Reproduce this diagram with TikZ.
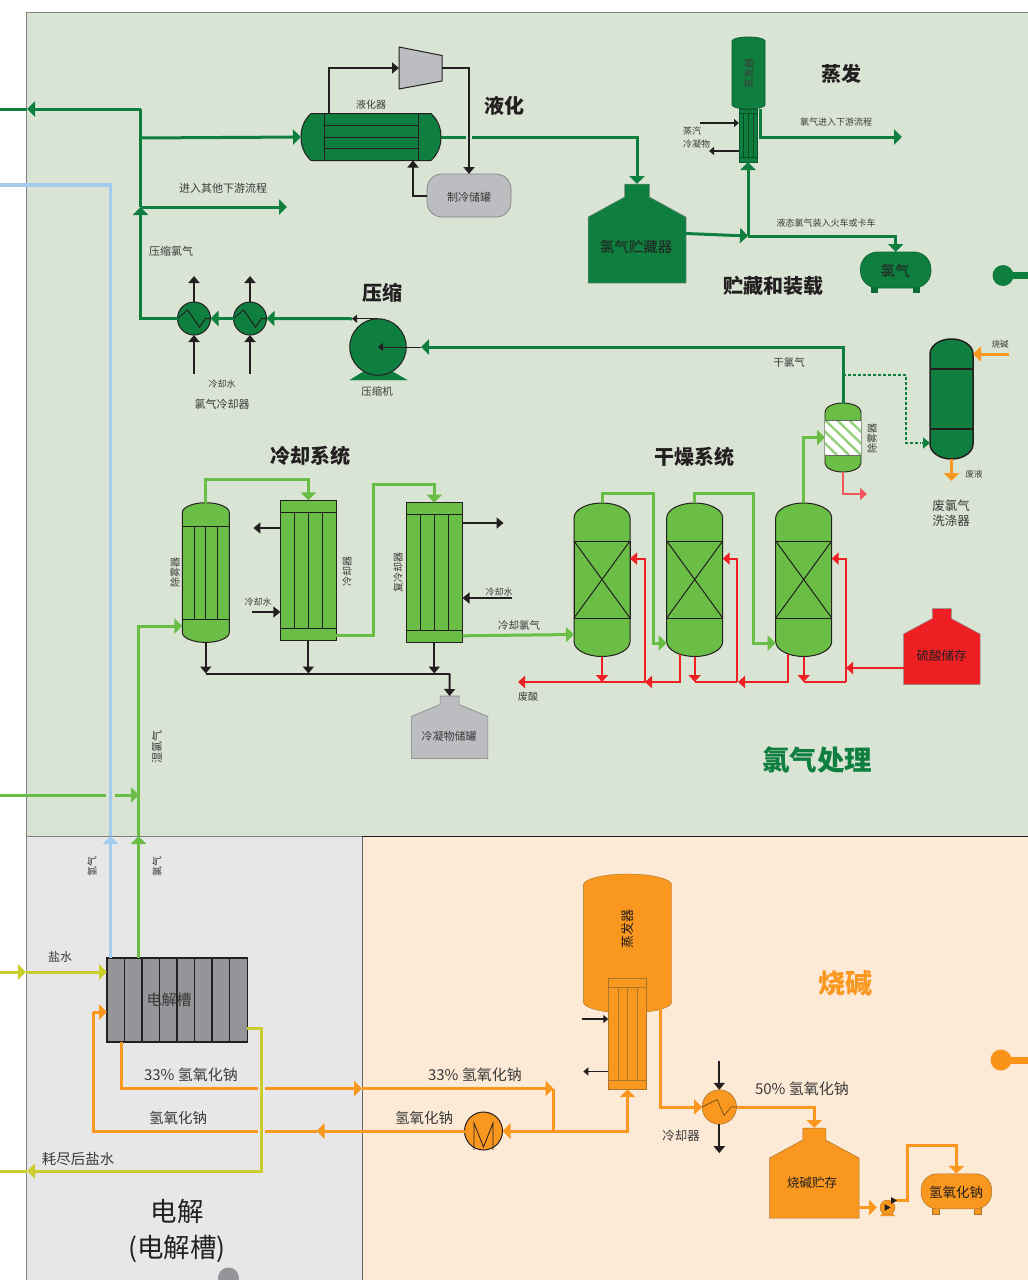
\documentclass[tikz,border=0pt]{standalone}
\usepackage{xcolor}
\usepackage{fontspec}
\setmainfont{Noto Sans CJK SC}
\usepackage{tikz}
\usetikzlibrary{arrows.meta, shapes.geometric, positioning, calc}
\definecolor{gaspanel}{HTML}{DAE4D5}
\definecolor{cellpanel}{HTML}{E7E7E8}
\definecolor{lyepanel}{HTML}{FDEAD6}
\definecolor{gasdark}{HTML}{0F7F3F}
\definecolor{gaslight}{HTML}{6ABD45}
\definecolor{skyline}{HTML}{A3CCEE}
\definecolor{brine}{HTML}{CACD2E}
\definecolor{lye}{HTML}{F9971E}
\definecolor{lyeedge}{HTML}{A8762F}
\definecolor{acid}{HTML}{EE2024}
\definecolor{tankgray}{HTML}{BCBDC0}
\definecolor{cellgray}{HTML}{939598}
\definecolor{ink}{HTML}{231F20}
\definecolor{labelgray}{HTML}{3A3A3A}
\tikzstyle{flow} = [line width=3pt, -{Triangle[length=8pt,width=15pt]}]
\tikzstyle{flowline} = [line width=3pt]
\tikzstyle{acidflow} = [line width=2pt, acid, -{Triangle[length=7pt,width=12pt]}]
\tikzstyle{acidline} = [line width=2pt, acid]
\tikzstyle{ctl} = [line width=2pt, ink, -{Triangle[length=7pt,width=11pt]}]
\tikzstyle{ctlfine} = [line width=1pt, ink, -{Triangle[length=5pt,width=8pt]}]
\tikzstyle{fine} = [line width=1pt, ink]
\tikzstyle{unit} = [rectangle, inner sep=0pt, outer sep=0pt]
\tikzstyle{wheel} = [circle, draw=ink, line width=1pt, inner sep=0pt, outer sep=0pt]
\tikzstyle{title} = [font=\fontsize{20}{22}\selectfont\bfseries, text=ink]
\tikzset{lab/.style={font=\fontsize{#1}{#1}\selectfont, text=labelgray, inner sep=0pt}}
% rounded vessel, flat sided
\newcommand{\vessel}[7][]{%
  \draw[#1] (#3,#4+#7) arc[start angle=180,end angle=360,x radius=#5/2,y radius=#7]
    -- ++(0,#6-2*#7) arc[start angle=0,end angle=180,x radius=#5/2,y radius=#7] -- cycle;
  \node (#2) [unit, minimum width=#5, minimum height=#6] at (#3+#5/2,#4+#6/2) {};}
% storage tank with neck
\newcommand{\necktank}[9][]{%
  \draw[#1] (#3,#4+#6) -- (#3,#4+#9) -- (#3+#5/2-#7/2,#4+#8) -- (#3+#5/2-#7/2,#4)
    -- (#3+#5/2+#7/2,#4) -- (#3+#5/2+#7/2,#4+#8) -- (#3+#5,#4+#9) -- (#3+#5,#4+#6) -- cycle;
  \node (#2) [unit, minimum width=#5, minimum height=#6] at (#3+#5/2,#4+#6/2) {};}
\begin{document}
\begin{tikzpicture}[x=1pt, y=-1pt]
    \useasboundingbox (0,0) rectangle (1028,1280);

    % Panels
    \fill [gaspanel] (26,12) rectangle (1028,836);
    \fill [cellpanel] (26,836) rectangle (362,1280);
    \fill [lyepanel] (362,836) rectangle (1028,1280);
    \draw [black!50, line width=0.8pt] (1028,12) -- (26,12) -- (26,1280);
    \draw [black!50, line width=0.8pt] (26,836) -- (362,836);
    \draw [black!60, line width=0.8pt] (362,836) -- (362,1280);
    \draw [ink, line width=0.9pt] (362,836) -- (1028,836);

    % Liquefaction
    \draw [fill=gasdark, draw=ink, line width=1pt] (311,113.5) .. controls (304,120) and (301,128) .. (301,137)
        .. controls (301,146) and (304,154) .. (311,160.5) -- (431,160.5)
        .. controls (438,154) and (441,146) .. (441,137) .. controls (441,128) and (438,120) .. (431,113.5) -- cycle;
    \node (liq) [unit, minimum width=140, minimum height=47] at (371,137) {};
    \foreach \x in {324,418} \draw [fine] (\x,113.5) -- (\x,160.5);
    \foreach \y in {125,137,148.5} \draw [fine] (324,\y) -- (418,\y);
    \draw [fill=tankgray, draw=ink, line width=1pt] (399,47) -- (442,55.5) -- (442,81) -- (399,89) -- cycle;
    \node (turb) [unit, minimum width=43, minimum height=42] at (420.5,68) {};
    \node (refr) [unit, rounded corners=15pt, draw=black!50, fill=tankgray, line width=0.7pt, minimum width=84, minimum height=43] at (469,195.5) {};
    \draw [ctl] (liq.north west) ++(28,0) |- (turb.west);
    \draw [ctl] (turb.east) -| (refr.north);
    \draw [ctl] (refr.west) -| ($(liq.south west)+(112,0)$);

    % Evaporation
    \vessel[fill=gasdark, draw=gasdark!70!black, line width=0.7pt]{evap}{732}{37}{33}{72}{4}
    \node (tube) [unit, draw=gasdark!70!black, fill=gasdark, line width=0.7pt, minimum width=18, minimum height=53] at (748,135.5) {};
    \foreach \y in {113,157.5} \draw [gasdark!60!black, line width=0.6pt] (tube.west |- 0,\y) -- (tube.east |- 0,\y);
    \foreach \x in {743,748,753} \draw [gasdark!60!black, line width=0.6pt] (\x,113) -- (\x,157.5);

    % Storage
    \necktank[fill=gasdark, draw=black!45, line width=0.5pt]{store}{588}{184}{98}{99}{25}{13}{33}
    \foreach \x in {871,913} \fill [gasdark!85!black] (\x,286) rectangle ++(7,7);
    \node (clfin) [unit, rounded corners=17pt, draw=gasdark!80!black, fill=gasdark, line width=0.7pt, minimum width=70.5, minimum height=36] at (895.7,270) {};

    % Compression
    \node (cool1) [wheel, fill=gasdark, minimum size=33] at (194,318.5) {};
    \node (cool2) [wheel, fill=gasdark, minimum size=33] at (250,318.5) {};
    \foreach \c in {cool1,cool2}
        \draw [fine] (\c.west) -- ++(10,-8.5) -- ++(12,17) -- ++(6,-8.5) -- (\c.east);
    \draw [fill=gasdark, draw=gasdark] (350,380) -- (363,372) -- (393,372) -- (407,380) -- cycle;
    \node (comp) [wheel, fill=gasdark, minimum size=56.5] at (378,347) {};

    % Scrubbing
    \vessel[fill=gasdark, draw=ink, line width=1.5pt]{scrub}{930}{339}{43}{120}{15}
    \foreach \y in {369,429} \draw [ink, line width=1.2pt] (930,\y) -- (973,\y);
    \vessel[fill=gaslight, draw=ink, line width=0.9pt]{dem}{825}{403}{36}{69}{9}
    \fill [white] (825,420) rectangle (861,455);
    \begin{scope}
        \clip (825,420) rectangle (861,455);
        \foreach \d in {-48,-36,...,36} \draw [gaslight!70, line width=2.4pt] (825+\d,420) -- ++(36,35);
    \end{scope}
    \foreach \y in {420,455} \draw [black!60, line width=1pt] (825,\y) -- (861,\y);

    % Drying towers
    \vessel[fill=gaslight, draw=ink, line width=1pt]{dry1}{574}{503}{56}{153.5}{15}
    \vessel[fill=gaslight, draw=ink, line width=1pt]{dry2}{666.7}{503}{56}{153.5}{15}
    \vessel[fill=gaslight, draw=ink, line width=1pt]{dry3}{775.7}{503}{56}{153.5}{15}
    \foreach \x in {574,666.7,775.7} {
        \draw [fine] (\x,541) rectangle ++(56,77);
        \draw [fine] (\x,541) -- ++(56,77);
        \draw [fine] (\x,618) -- ++(56,-77);
    }
    \necktank[fill=acid, draw=black!45, line width=0.5pt]{sulf}{903.5}{608.5}{76.5}{76}{19}{10}{25.5}

    % Cooling
    \vessel[fill=gaslight, draw=ink, line width=1pt]{mist}{182.3}{502.7}{47}{139.7}{10}
    \foreach \y in {526,619} \draw [fine] (182.3,\y) -- (229.3,\y);
    \foreach \x in {194.2,205.8,217.5} \draw [fine] (\x,526) -- (\x,619);
    \node (cond1) [unit, draw=ink, fill=gaslight, line width=1pt, minimum width=56, minimum height=139.7] at (308.4,570.2) {};
    \node (cond2) [unit, draw=ink, fill=gaslight, line width=1pt, minimum width=56.5, minimum height=139.6] at (434.3,572.5) {};
    \foreach \y in {512,628.7} \draw [fine] (cond1.west |- 0,\y) -- (cond1.east |- 0,\y);
    \foreach \x in {294.5,308.4,322.5} \draw [fine] (\x,512) -- (\x,628.7);
    \foreach \y in {514.5,630.5} \draw [fine] (cond2.west |- 0,\y) -- (cond2.east |- 0,\y);
    \foreach \x in {420,434.3,448.3} \draw [fine] (\x,514.5) -- (\x,630.5);
    \necktank[fill=tankgray, draw=black!50, line width=0.6pt]{cond}{411.3}{696}{76.5}{62.6}{19}{8.5}{20.5}

    % Cell
    \node (cell) [unit, draw=ink, fill=cellgray, line width=1.5pt, minimum width=140.5, minimum height=84] at (177.25,1000) {};
    \foreach \x in {124.5,142,159.5,177,194.5,212,229.5} \draw [ink, line width=1.5pt] (\x,958) -- (\x,1042);

    % Caustic
    \vessel[fill=lye, draw=lyeedge, line width=0.4pt]{evlye}{583.3}{874}{88.4}{139}{11}
    \node (evtube) [unit, draw=lyeedge, fill=lye, line width=0.6pt, minimum width=38.4, minimum height=111] at (627.5,1033.7) {};
    \foreach \y in {987.5,1080} \draw [lyeedge, line width=0.6pt] (evtube.west |- 0,\y) -- (evtube.east |- 0,\y);
    \foreach \x in {618.5,627.5,637} \draw [lyeedge, line width=0.6pt] (\x,987.5) -- (\x,1080);
    \node (motor) [wheel, fill=lye, minimum size=38] at (483.5,1131) {};
    \draw [fine, line width=0.8pt] (motor.center) ++(-9.5,19) -- ++(0,-27) -- ++(9.5,24) -- ++(9.5,-24) -- ++(0,27);
    \node (lcool) [wheel, draw=lyeedge, line width=0.6pt, fill=lye, minimum size=34.4] at (719.3,1107) {};
    \draw [lyeedge!60!black, line width=0.6pt] (lcool.west) -- ++(15,-7.5) -- ++(7,16) -- ++(7,-8.5) -- (lcool.east);
    \necktank[fill=lye, draw=lyeedge, line width=0.5pt]{caust}{769.5}{1128}{89.5}{90}{23}{12}{30}
    \fill [lye] (880,1216) -- (884,1211) -- (891,1211) -- (895,1216) -- cycle;
    \node (pump) [wheel, draw=lyeedge, line width=0.4pt, fill=lye, minimum size=15] at (887.5,1207.5) {};
    \fill [ink] (pump.center) ++(-3,-3.5) -- ++(6,3.5) -- ++(-6,3.5) -- cycle;
    \foreach \x in {932,974} \draw [fill=lye, draw=lyeedge, line width=0.4pt] (\x,1206) rectangle ++(7,8);
    \node (naoh) [unit, rounded corners=16pt, draw=lyeedge, fill=lye, line width=0.5pt, minimum width=70.6, minimum height=35] at (956.4,1191.3) {};

    % Side dots
    \node (dotgas) [circle, fill=gasdark, inner sep=0pt, minimum size=21] at (1003,275.5) {};
    \draw [gasdark, line width=7pt] (dotgas.center) -- ++(26,0);
    \node (dotlye) [circle, fill=lye!85!orange, inner sep=0pt, minimum size=21] at (1001,1060) {};
    \draw [lye!85!orange, line width=7pt] (dotlye.center) -- ++(28,0);
    \node (dotcell) [circle, fill=cellgray, inner sep=0pt, minimum size=21] at (228.5,1278) {};

    % Junction points
    \coordinate (gasout) at (27,109);
    \coordinate (gasedge) at (0,109);
    \coordinate (gascorner) at (140.5,109);
    \coordinate (gasup) at (140.5,207);
    \coordinate (gasjoin) at (140.5,138);
    \coordinate (gasother) at (287,207);
    \coordinate (liqgapa) at (466,137);
    \coordinate (liqgapb) at (472,137);
    \coordinate (storejoin) at (748,236);
    \coordinate (evapout) at (902,137);
    \coordinate (stmin) at (700,123);
    \coordinate (cndout) at (709,151);
    \coordinate (compin) at (421,347);
    \coordinate (scrubin) at (930,443);
    \coordinate (lyein) at (1009,354);
    \coordinate (dryin) at (574,634.5);
    \coordinate (dry1in) at (666.7,643);
    \coordinate (dry2in) at (775.7,643);
    \coordinate (acidleft) at (518,682);
    \coordinate (acida) at (645,682);
    \coordinate (acidb) at (738,682);
    \coordinate (acidbend) at (737,682);
    \coordinate (acidc) at (846,682);
    \coordinate (acidret) at (846,558.6);
    \coordinate (acidfeed) at (846,668);
    \coordinate (cndrail) at (449.7,673.5);
    \coordinate (wetin) at (182.3,626);
    \coordinate (wettop) at (138.5,836);
    \coordinate (bluetop) at (110.5,836);
    \coordinate (blueedge) at (0,185);
    \coordinate (sideedge) at (0,795);
    \coordinate (sidegap) at (106,795);
    \coordinate (sidegapb) at (115,795);
    \coordinate (sidein) at (139,795);
    \coordinate (brineedge) at (0,972);
    \coordinate (brinein) at (26,972);
    \coordinate (spent) at (27,1171);
    \coordinate (topgapa) at (257.5,1088.5);
    \coordinate (topgapb) at (264.5,1088.5);
    \coordinate (topmid) at (362,1088.5);
    \coordinate (topend) at (553.5,1088.5);
    \coordinate (lowjoin) at (553.5,1131);
    \coordinate (lowmid) at (316.5,1131);
    \coordinate (lowgapb) at (264.5,1131);
    \coordinate (lowgapa) at (257.5,1131);
    \coordinate (cellin) at (107,1012);
    \coordinate (cellup) at (93,1012);

    % Dark green lines
    \draw [flow, gasdark] (cool1.west) -| (gasup);
    \draw [flow, gasdark] (gascorner) -- (gasout);
    \draw [flowline, gasdark] (gasup) -- (gascorner);
    \draw [flowline, gasdark] (gasout) -- (gasedge);
    \draw [flow, gasdark] (gasjoin) -- (liq.west);
    \draw [flow, gasdark] (gasup) -- (gasother);
    \draw [flowline, gasdark] (liq.east) -- (liqgapa);
    \draw [flow, gasdark] (liqgapb) -| (store.north);
    \draw [flow, gasdark] (store.east) -- (storejoin);
    \draw [flow, gasdark] (storejoin) -- (tube.south);
    \draw [flow, gasdark] (storejoin) -| (clfin.north);
    \draw [flow, gasdark] (evap.south west) ++(28,0) |- (evapout);
    \draw [flow, gasdark] (cool2.west) -- (cool1.east);
    \draw [flow, gasdark] (comp.north) ++(-26,0) -- (cool2.east);
    \draw [flow, gasdark] (dem.north) |- (compin);
    \draw [gasdark, line width=1.5pt, densely dashed] (dem.north) ++(0,-28) -- ++(63,0) -- ++(0,68) -- ++(15,0);
    \draw [gasdark, line width=1.5pt, -{Triangle[length=7pt,width=11pt]}] (scrubin) ++(-8,0) -- (scrubin);

    % Black lines
    \draw [ctlfine] (comp.north) -- ++(-26,0);
    \draw [ctlfine] (compin) -- (comp.center);
    \foreach \c in {cool1,cool2} {
        \draw [ctl] (\c.north) -- ++(0,-26);
        \draw [ctl] (\c.south) ++(0,39) -- (\c.south);
    }
    \draw [ctlfine, line width=1.5pt] (stmin) -- (stmin -| tube.west);
    \draw [ctlfine, line width=1.5pt] (tube.west |- cndout) -- (cndout);
    \draw [ctl] (cond1.west |- 0,528) -- ++(-27,0);
    \draw [ctl] (252,612) -- (cond1.west |- 0,612);
    \draw [ctl] (cond2.east |- 0,523) -- ++(41,0);
    \draw [ctl] (512,598) -- (cond2.east |- 0,598);
    \draw [ctl] (mist.south) -- (mist.south |- cndrail);
    \draw [ctl] (cond1.south) -- (cond1.south |- cndrail);
    \draw [ctl] (cond2.south) -- (cond2.south |- cndrail);
    \draw [line width=2pt, ink] (mist.south |- cndrail) -- (cndrail);
    \draw [ctl] (cndrail) -- (cond.north);
    \draw [ctlfine, line width=1.5pt] (evtube.west |- 0,1019) ++(-26,0) -- ++(26,0);
    \draw [ctlfine, line width=1.5pt] (evtube.west |- 0,1071.5) -- ++(-25,0);
    \draw [ctl] (lcool.north) ++(0,-29) -- (lcool.north);
    \draw [ctl] (lcool.south) -- ++(0,29);

    % Light green lines
    \draw [flow, gaslight] (mist.north) -- ++(0,-23) -| (cond1.north);
    \draw [flow, gaslight] (cond1.south east) ++(0,-5) -- ++(37,0) -- ++(0,-151) -| (cond2.north);
    \draw [flow, gaslight] (cond2.south east) ++(0,-6.5) -- (dryin);
    \draw [flow, gaslight] (dry1.north) -- ++(0,-10) -- ++(51,0) |- (dry1in);
    \draw [flow, gaslight] (dry2.north) -- ++(0,-10) -- ++(58.5,0) |- (dry2in);
    \draw [flow, gaslight] (dry3.north) |- (dem.west);
    \draw [flow, gaslight] (wettop) |- (wetin);
    \draw [flow, gaslight] (cell.north west) ++(31.5,0) -- (wettop);
    \draw [flowline, gaslight] (sideedge) -- (sidegap);
    \draw [flow, gaslight] (sidegapb) -- (sidein);

    % Blue line
    \draw [flow, skyline, line width=3.5pt] (cell.north west) ++(3.5,0) -- (bluetop);
    \draw [skyline, line width=3.5pt] (bluetop) |- (blueedge);

    % Red lines
    \draw [acidflow] (acida) -- (acidleft);
    \draw [acidflow] (dry1.south) -- (dry1.south |- acida);
    \draw [acidflow] (acida) |- (dry1.east |- acidret);
    \draw [acidflow] (dry2.south west) ++(13.5,-3) |- (acida);
    \draw [acidflow] (dry2.south) -- (dry2.south |- acida);
    \draw [acidline] (dry2.south |- acida) -- (acidbend);
    \draw [acidflow] (acidbend) |- (dry2.east |- acidret);
    \draw [acidflow] (dry3.south west) ++(12.5,-3) |- (acidb);
    \draw [acidflow] (dry3.south) -- (dry3.south |- acida);
    \draw [acidline] (dry3.south |- acida) -- (acidc);
    \draw [acidflow] (acidc) -- (acidret) -- (dry3.east |- acidret);
    \draw [acidflow] (acidfeed -| sulf.west) -- (acidfeed);
    \draw [acidflow, acid!75!white] (dem.south) -- ++(0,22) -- ++(24,0);

    % Yellow lines
    \draw [flow, brine] (brineedge) -- (brinein);
    \draw [flow, brine] (brinein) -- (brinein -| cell.west);
    \draw [flow, brine] (cell.south east) ++(-1,-14) -- ++(14.5,0) |- (spent);
    \draw [flowline, brine] (spent) -- ++(-27,0);

    % Orange lines
    \draw [flow, lye] (lyein) -- (lyein -| scrub.east);
    \draw [flow, lye] (scrub.south) -- ++(0,22);
    \draw [flowline, lye] (cell.south west) ++(14,0) |- (topgapa);
    \draw [flow, lye] (topgapb) -- (topmid);
    \draw [flow, lye] (topmid) -- (topend);
    \draw [flowline, lye] (topend) -- (lowjoin);
    \draw [flow, lye] (lowjoin) -| (evtube.south);
    \draw [flow, lye] (lowjoin) -- (motor.east);
    \draw [flow, lye] (motor.west) -- (lowmid);
    \draw [flowline, lye] (lowmid) -- (lowgapb);
    \draw [flowline, lye] (lowgapa) -| (cellup);
    \draw [flow, lye] (cellup) -- (cellin);
    \draw [flow, lye] (evlye.south east) ++(-11,-8) |- (lcool.west);
    \draw [flow, lye] (lcool.east) -| (caust.north);
    \draw [flow, lye] (caust.south east) ++(0,-10.5) -- ++(18,0);
    \draw [flow, lye] (pump.east) ++(0,-7) -- ++(12,0) -- ++(0,-55.5) -| (naoh.north);
    \fill [ink] (pump.center) ++(3.5,-10.5) -- ++(6,3.5) -- ++(-6,3.5) -- cycle;

    % Section titles
    \node (tliq) [title] at (504,106) {液化};
    \node (tevap) [title] at (841,74) {蒸发};
    \node (tstore) [title] at (773,286) {贮藏和装载};
    \node (tcomp) [title] at (382,293) {压缩};
    \node (tcool) [title] at (310,456) {冷却系统};
    \node (tdry) [title] at (694,457) {干燥系统};
    \node (tgas) [title, font=\fontsize{27.5}{29}\selectfont\bfseries, text=gasdark] at (817,760) {氯气处理};
    \node (tlye) [title, font=\fontsize{27}{29}\selectfont\bfseries, text=lye] at (845,983) {烧碱};
    \node (tcell) [font=\fontsize{26.5}{36}\selectfont, text=ink, align=center] at (177,1230.5) {电解\\(电解槽)};

    % Labels
    \node (lliq) [lab=10] at (371,105) {液化器};
    \node (lrefr) [lab=11] at (469,197) {制冷储罐};
    \node (lother) [lab=11] at (223,188) {进入其他下游流程};
    \node (lcomgas) [lab=11] at (171,251) {压缩氯气};
    \node (lwatera) [lab=9] at (222,384) {冷却水};
    \node (lchill) [lab=11] at (222,404) {氯气冷却器};
    \node (lcomp) [lab=10.5] at (377,391) {压缩机};
    \node (levap) [lab=10, rotate=90] at (749,73) {蒸发器};
    \node (lstm) [lab=9] at (692,131) {蒸汽};
    \node (lcnd) [lab=9] at (696.5,144) {冷凝物};
    \node (levout) [lab=9] at (836,122) {氯气进入下游流程};
    \node (lload) [lab=9] at (826,223) {液态氯气装入火车或卡车};
    \node (lstore) [lab=14.5, text=ink] at (636,247) {氯气贮藏器};
    \node (lclfin) [lab=14.5, text=ink] at (895,271) {氯气};
    \node (ldry) [lab=10.5] at (789,362) {干氯气};
    \node (llyein) [lab=8.5] at (1000,344) {烧碱};
    \node (lwaste) [lab=8.5] at (974,474) {废液};
    \node (lscrub) [lab=12, align=center, font=\fontsize{12.5}{15}\selectfont] at (951,513) {废氯气\\洗涤器};
    \node (ldem) [lab=10, rotate=90] at (872,438) {除雾器};
    \node (lmist) [lab=10, rotate=90] at (175,572) {除雾器};
    \node (lconda) [lab=10, rotate=90] at (347,571) {冷却器};
    \node (lcondb) [lab=10, rotate=90] at (398,572) {复冷却器};
    \node (lwaterb) [lab=9] at (258,602) {冷却水};
    \node (lwaterc) [lab=9] at (499,592) {冷却水};
    \node (lcold) [lab=10.5] at (519,625) {冷却氯气};
    \node (lacid) [lab=10] at (528,697) {废酸};
    \node (lsulf) [lab=12.5, text=ink] at (941.5,656) {硫酸储存};
    \node (lcond) [lab=11] at (449,736) {冷凝物储罐};
    \node (lwet) [lab=11, rotate=90] at (157,747) {湿氯气};
    \node (lhyd) [lab=10, rotate=90] at (92,866) {氢气};
    \node (lcl) [lab=10, rotate=90] at (157,866) {氯气};
    \node (lbrine) [lab=12] at (60,957) {盐水};
    \node (lcell) [lab=15] at (169,1000) {电解槽};
    \node (lnaoa) [lab=15] at (191,1075) {33\% 氢氧化钠};
    \node (lnaob) [lab=15] at (475,1075) {33\% 氢氧化钠};
    \node (lnaoc) [lab=14.5] at (178,1118) {氢氧化钠};
    \node (lnaod) [lab=14.5] at (424,1118) {氢氧化钠};
    \node (lspent) [lab=14.5] at (78,1159) {耗尽后盐水};
    \node (levlye) [lab=13, text=ink, rotate=90] at (627.5,929) {蒸发器};
    \node (lcooler) [lab=12.5] at (681,1136) {冷却器};
    \node (lnaoe) [lab=15] at (802,1089) {50\% 氢氧化钠};
    \node (lcaust) [lab=12.5, text=ink] at (812,1183) {烧碱贮存};
    \node (lnaoh) [lab=13.5, text=ink] at (956,1192) {氢氧化钠};
\end{tikzpicture}
\end{document}
